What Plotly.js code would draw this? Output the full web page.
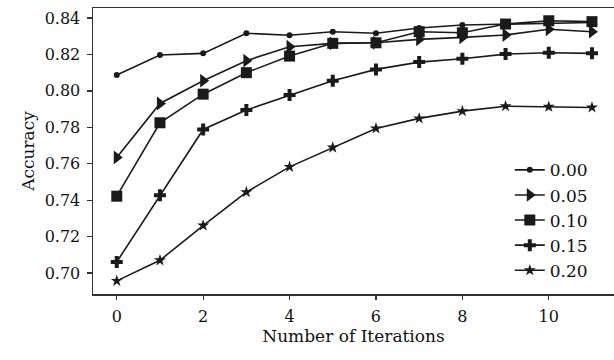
<!DOCTYPE html>
<html>
<head>
<meta charset="utf-8">
<script src="https://cdn.plot.ly/plotly-3.0.1.min.js"></script>
<style>html,body{margin:0;padding:0;background:#fff;}#chart{width:614px;height:360px;}</style>
</head>
<body>
<div id="chart"></div>
<script>
const iterations = [0, 1, 2, 3, 4, 5, 6, 7, 8, 9, 10, 11];
const seriesNames = ["0.00", "0.05", "0.10", "0.15", "0.20"];
const acc000 = [0.8087, 0.8197, 0.8206, 0.8316, 0.8305, 0.8325, 0.8316, 0.8345, 0.8362, 0.8365, 0.8372, 0.8375];
const acc005 = [0.7635, 0.7931, 0.8056, 0.8166, 0.8242, 0.8261, 0.8264, 0.8283, 0.8294, 0.8307, 0.8338, 0.8325];
const acc010 = [0.7422, 0.7825, 0.7982, 0.8100, 0.8191, 0.8261, 0.8264, 0.8325, 0.8319, 0.8367, 0.8385, 0.8380];
const acc015 = [0.7061, 0.7427, 0.7788, 0.7895, 0.7977, 0.8056, 0.8118, 0.8158, 0.8176, 0.8202, 0.8209, 0.8206];
const acc020 = [0.6957, 0.7070, 0.7261, 0.7444, 0.7583, 0.7689, 0.7794, 0.7849, 0.7889, 0.7916, 0.7913, 0.7909];
const xTickVals = [0, 2, 4, 6, 8, 10];
const yTickVals = [0.70, 0.72, 0.74, 0.76, 0.78, 0.80, 0.82, 0.84];

const allSeries = [acc000, acc005, acc010, acc015, acc020];
const symbols = ["circle", "triangle-right", "square", "cross", "star"];
const sizes = [6, 12, 11, 10, 9];
const FONT = "DejaVu Serif, serif";

const traces = allSeries.map((ys, i) => ({
  x: iterations, y: ys, name: seriesNames[i],
  type: "scatter", mode: "lines+markers",
  line: {color: "#1a1a1a", width: 1.6},
  marker: {symbol: symbols[i], size: sizes[i], color: "#1a1a1a", line: {width: 0}}
}));

const layout = {
  width: 614, height: 360,
  margin: {l: 93, r: 0, t: 8, b: 66},
  paper_bgcolor: "#fff", plot_bgcolor: "#fff",
  font: {family: FONT, size: 16, color: "#111"},
  showlegend: true,
  legend: {x: 0.8, y: 0.02, xanchor: "left", yanchor: "bottom", bgcolor: "rgba(0,0,0,0)", font: {family: FONT, size: 17, color: "#111"}, tracegroupgap: 0},
  xaxis: {
    range: [-0.55, 11.51], tickvals: xTickVals, ticktext: xTickVals.map(String),
    showgrid: false, zeroline: false, showline: true, mirror: true, linecolor: "#333", linewidth: 1.5,
    ticks: "outside", ticklen: 4, tickwidth: 1.3, tickcolor: "#333",
    ticklabelstandoff: 3,
    tickfont: {family: FONT, size: 16, color: "#111"},
    title: {text: "Number of Iterations", font: {family: FONT, size: 17, color: "#111"}, standoff: 4}
  },
  yaxis: {
    range: [0.6885, 0.8455], tickvals: yTickVals, ticktext: yTickVals.map(v => v.toFixed(2)),
    showgrid: false, zeroline: false, showline: true, linecolor: "#333", linewidth: 1.5,
    ticks: "outside", ticklen: 5, tickwidth: 1.3, tickcolor: "#333",
    ticklabelstandoff: 3,
    tickfont: {family: FONT, size: 16, color: "#111"},
    title: {text: "Accuracy", font: {family: FONT, size: 17, color: "#111"}, standoff: 5}
  }
};

Plotly.newPlot("chart", traces, layout, {displayModeBar: false, staticPlot: true});
</script>
</body>
</html>
